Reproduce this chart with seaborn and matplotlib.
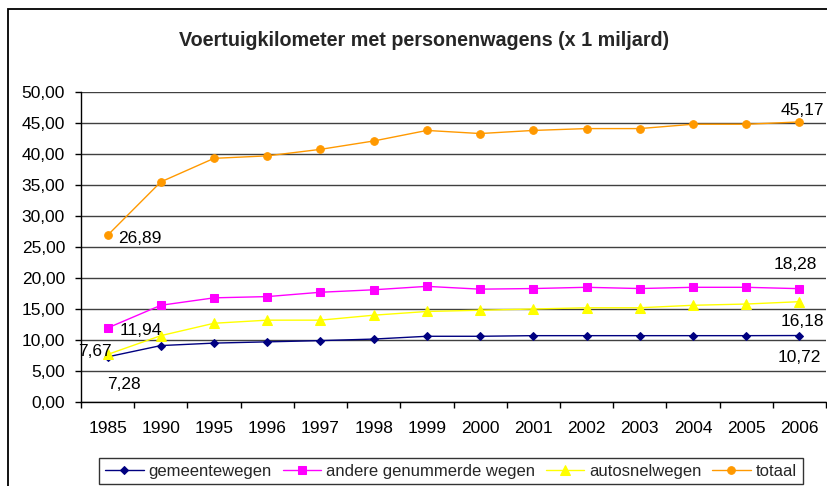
import matplotlib
matplotlib.use("Agg")
import matplotlib.pyplot as plt
import seaborn as sns
import pandas as pd
from matplotlib.patches import Rectangle
from matplotlib.ticker import FuncFormatter, FixedLocator

years = ["1985", "1990", "1995", "1996", "1997", "1998", "1999", "2000",
         "2001", "2002", "2003", "2004", "2005", "2006"]
gemeentewegen = [7.28, 9.1, 9.5, 9.7, 9.9, 10.15, 10.6, 10.6, 10.7, 10.7, 10.7, 10.7, 10.7, 10.72]
andere = [11.94, 15.6, 16.8, 17.0, 17.7, 18.1, 18.65, 18.2, 18.3, 18.5, 18.3, 18.5, 18.5, 18.28]
autosnelwegen = [7.67, 10.7, 12.7, 13.2, 13.2, 14.0, 14.6, 14.8, 15.0, 15.2, 15.2, 15.6, 15.8, 16.18]
totaal = [26.89, 35.5, 39.3, 39.7, 40.75, 42.1, 43.8, 43.3, 43.8, 44.1, 44.1, 44.8, 44.8, 45.17]

series_names = ["gemeentewegen", "andere genummerde wegen", "autosnelwegen", "totaal"]
series_vals = [gemeentewegen, andere, autosnelwegen, totaal]
colors = ["#000080", "#FF00FF", "#FFFF00", "#FF9900"]
markers = ["D", "s", "^", "o"]
msizes = [4.5, 5.2, 6.5, 5.5]

sns.set_theme(style="white")
plt.rcParams["font.family"] = ["Liberation Sans", "DejaVu Sans"]

rows = []
for name, vals in zip(series_names, series_vals):
    for i, v in enumerate(vals):
        rows.append({"pos": i, "value": v, "serie": name})
df = pd.DataFrame(rows)

fig = plt.figure(figsize=(8.27, 4.86), dpi=100)
ax = fig.add_axes([81/827, 1 - 402/486, (826-81)/827, (402-92)/486])

for name, col, mk, ms in zip(series_names, colors, markers, msizes):
    sub = df[df["serie"] == name]
    sns.lineplot(data=sub, x="pos", y="value", ax=ax, color=col, marker=mk,
                 markersize=ms, markeredgecolor=col, linewidth=1.0, label=name)

ax.set_xlim(-0.5, len(years) - 0.5)
ax.set_ylim(0, 50)
ax.set_yticks(range(0, 51, 5))
ax.yaxis.set_major_formatter(FuncFormatter(lambda v, p: f"{v:.2f}".replace(".", ",")))
ax.set_xticks(range(len(years)))
ax.set_xticklabels(years)
ax.xaxis.set_minor_locator(FixedLocator([i - 0.5 for i in range(len(years) + 1)]))
ax.tick_params(axis="y", which="major", labelsize=12.5, colors="black", length=4.5,
               width=1, direction="out", left=True, pad=7)
ax.tick_params(axis="x", which="major", labelsize=12.5, colors="black", length=0, pad=14)
ax.tick_params(axis="x", which="minor", bottom=True, length=4, width=1, color="black",
               direction="out")
ax.set_xlabel("")
ax.set_ylabel("")
ax.grid(axis="y", which="major", color="#404040", linewidth=1)
for s in ["top", "right"]:
    ax.spines[s].set_visible(False)
for s in ["left", "bottom"]:
    ax.spines[s].set_color("black")
    ax.spines[s].set_linewidth(1)
ax.set_axisbelow(True)


def fmt(v):
    return f"{v:.2f}".replace(".", ",")


n = len(years) - 1
labels = [
    (0, totaal[0], (7.9, -5.9), "left"),
    (0, andere[0], (8.6, -5.2), "left"),
    (0, autosnelwegen[0], (3.2, -0.9), "right"),
    (0, gemeentewegen[0], (0, -23.2), "left"),
    (n, totaal[n], (2.2, 5.3), "center"),
    (n, andere[n], (-3.2, 14.0), "center"),
    (n, autosnelwegen[n], (1.8, -17.6), "center"),
    (n, gemeentewegen[n], (0, -18.9), "center"),
]
for x, v, off, ha in labels:
    ax.annotate(fmt(v), (x, v), xytext=off, textcoords="offset points",
                fontsize=12.5, ha=ha, va="baseline", color="black")

fig.text(424/827, 1 - 40/486, "Voertuigkilometer met personenwagens (x 1 miljard)",
         ha="center", va="center", fontsize=14.2, fontweight="bold")

leg = ax.legend(loc="center", bbox_to_anchor=(451/827, 1 - 471/486),
                bbox_transform=fig.transFigure, ncol=4, frameon=True,
                prop={"size": 12},
                fancybox=False, borderpad=0.35, handlelength=2.3, columnspacing=0.65,
                handletextpad=0.3, borderaxespad=0)
leg.get_frame().set_edgecolor("black")
leg.get_frame().set_linewidth(1)

fig.patches.append(Rectangle((8/827, -0.01), 1.0, 1 - 9/486 + 0.01, transform=fig.transFigure,
                             fill=False, edgecolor="black", linewidth=1.3))

fig.savefig("out.png", dpi=100)
